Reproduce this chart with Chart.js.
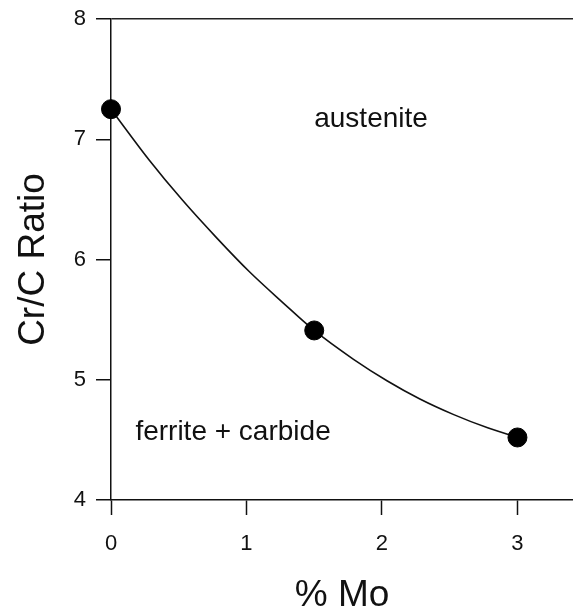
<!DOCTYPE html>
<html>
<head>
<meta charset="utf-8">
<script src="https://cdn.jsdelivr.net/npm/chart.js@4"></script>
<style>
  html, body { margin: 0; padding: 0; background: #fff; }
  #wrap { width: 573px; height: 614px; }
</style>
</head>
<body>
<div id="wrap"><canvas id="c" width="573" height="614"></canvas></div>
<script>
// Measured Cr/C ratio boundary against molybdenum content
const moPercent = [0, 1.5, 3];
const crcRatio = [7.25, 5.41, 4.52];

// Fitted boundary curve, read along its length
const curveMo = [0, 0.28, 0.53, 0.78, 1.02, 1.27, 1.5, 1.79, 2.04, 2.28, 2.53, 2.78, 3];
const curveRatio = [7.25, 6.83, 6.49, 6.18, 5.90, 5.64, 5.41, 5.17, 4.99, 4.84, 4.71, 4.60, 4.52];

// Axis ticks
const xTicks = [0, 1, 2, 3];
const yTicks = [4, 5, 6, 7, 8];

// Phase field labels
const regionNames = ['austenite', 'ferrite + carbide'];
const regionAnchorX = [1.5, 0.18];
const regionAnchorY = [7.10, 4.50];

const FONT = "'Liberation Sans', Arial, Helvetica, sans-serif";

const regionLabels = {
  id: 'regionLabels',
  afterDatasetsDraw(chart) {
    const { ctx, scales: { x, y } } = chart;
    ctx.save();
    ctx.fillStyle = '#111';
    ctx.font = '28px ' + FONT;
    ctx.textAlign = 'left';
    ctx.textBaseline = 'alphabetic';
    regionNames.forEach((name, i) => {
      ctx.fillText(name, x.getPixelForValue(regionAnchorX[i]), y.getPixelForValue(regionAnchorY[i]));
    });
    ctx.restore();
  }
};

new Chart(document.getElementById('c'), {
  type: 'scatter',
  data: {
    datasets: [{
      // measured points
      data: moPercent.map((m, i) => ({ x: m, y: crcRatio[i] })),
      showLine: false,
      pointRadius: 9.5,
      pointHoverRadius: 9.5,
      pointBackgroundColor: '#000',
      pointBorderColor: '#000',
      pointBorderWidth: 1,
      clip: false,
      order: 0
    }, {
      // boundary curve
      data: curveMo.map((m, i) => ({ x: m, y: curveRatio[i] })),
      showLine: true,
      cubicInterpolationMode: 'monotone',
      borderColor: '#111',
      borderWidth: 1.6,
      pointRadius: 0,
      pointHoverRadius: 0,
      clip: false,
      order: 1
    }]
  },
  options: {
    responsive: false,
    animation: false,
    events: [],
    layout: { autoPadding: false, padding: { top: 19, right: 0, bottom: 0, left: 0 } },
    plugins: { legend: { display: false }, tooltip: { enabled: false } },
    scales: {
      x: {
        type: 'linear',
        min: 0,
        max: 3.41,
        afterBuildTicks: s => { s.ticks = xTicks.map(v => ({ value: v })); },
        afterFit: s => { s.height = 114; s.paddingLeft = 0; s.paddingRight = 0; },
        border: { display: true, color: '#111', width: 1.5 },
        grid: { color: 'rgba(0,0,0,0)', drawTicks: true, tickLength: 15, tickColor: '#111', tickWidth: 1.5 },
        ticks: { color: '#111', font: { family: FONT, size: 22 }, padding: 16, maxRotation: 0 },
        title: { display: true, text: '% Mo', color: '#111', font: { family: FONT, size: 37, lineHeight: 1 }, padding: { top: 0, bottom: 0 } }
      },
      y: {
        type: 'linear',
        min: 4,
        max: 8,
        afterBuildTicks: s => { s.ticks = yTicks.map(v => ({ value: v })); },
        afterFit: s => { s.width = 111; s.paddingTop = 0; s.paddingBottom = 0; },
        border: { display: true, color: '#111', width: 1.5 },
        grid: {
          color: c => (c.tick && c.tick.value === yTicks[yTicks.length - 1]) ? '#222' : 'rgba(0,0,0,0)',
          lineWidth: 1.5,
          drawTicks: true, tickLength: 15, tickColor: '#111', tickWidth: 1.5
        },
        ticks: { color: '#111', font: { family: FONT, size: 22 }, padding: 10 },
        title: { display: true, text: 'Cr/C Ratio', color: '#111', font: { family: FONT, size: 37, lineHeight: 1 }, padding: { top: 15, bottom: 0 } }
      }
    }
  },
  plugins: [regionLabels]
});
</script>
</body>
</html>
